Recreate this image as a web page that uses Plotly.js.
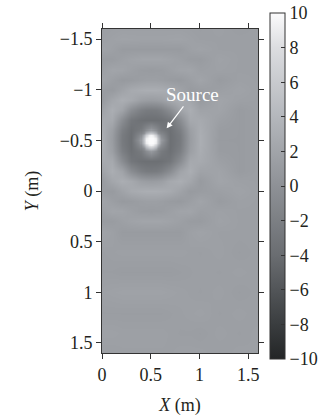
<!DOCTYPE html>
<html><head><meta charset="utf-8">
<script src="https://cdn.plot.ly/plotly-3.0.1.min.js"></script>
<style>html,body{margin:0;padding:0;background:#fff}#chart{width:334px;height:418px}</style>
</head><body><div id="chart"></div>
<script>
// grid coordinates (m)
const xs = [0, 0.1, 0.2, 0.3, 0.4, 0.45, 0.5, 0.55, 0.6, 0.7, 0.8, 0.9, 1.0, 1.2, 1.4, 1.6];
const ys = [-1.6, -1.5, -1.4, -1.3, -1.2, -1.1, -1.0, -0.9, -0.8, -0.7, -0.6, -0.55, -0.5, -0.45, -0.4,
            -0.3, -0.2, -0.1, 0, 0.1, 0.2, 0.3, 0.4, 0.6, 0.8, 1.0, 1.2, 1.4, 1.6];
// field values (one row per y)
const field = [
  [1.4,1.5,1.6,1.6,1.6,1.6,1.6,1.6,1.6,1.6,1.6,1.5,1.4,1.6,1.3,1.5],
  [1.5,1.7,1.9,1.85,1.8,1.8,1.8,1.8,1.8,1.85,1.9,1.7,1.5,1.5,1.5,1.5],
  [1.85,1.6,1.1,1.1,1.1,1.1,1.1,1.1,1.1,1.1,1.1,1.6,1.85,1.5,1.5,1.5],
  [1.1,1.15,1.55,1.85,2.05,2.1,2.1,2.1,2.05,1.85,1.55,1.15,1.1,1.8,1.5,1.5],
  [1.5,2.05,1.95,1.55,1.2,1.15,1.1,1.15,1.2,1.55,1.95,2.05,1.5,1.65,1.5,1.5],
  [2.0,1.45,0.95,1.1,1.4,1.5,1.5,1.5,1.4,1.1,0.95,1.45,2.0,1.1,1.6,1.5],
  [1.2,1.0,1.85,2.6,2.9,3,3,3,2.9,2.6,1.85,1.0,1.2,1.5,1.85,1.5],
  [1.0,2.2,3,2.5,1.5,1.3,1.2,1.3,1.5,2.5,3,2.2,1.0,2.05,1.6,1.5],
  [1.85,3,1.9,-0.5,-2.0,-2.4,-2.5,-2.4,-2.0,-0.5,1.9,3,1.85,1.95,1.1,1.5],
  [2.6,2.5,-0.5,-2.9,-3.6,-3.7,-3.7,-3.7,-3.6,-2.9,-0.5,2.5,2.6,1.55,1.1,1.5],
  [2.9,1.5,-2.0,-3.6,-2.5,-0.5,1,-0.5,-2.5,-3.6,-2.0,1.5,2.9,1.2,1.1,1.5],
  [3,1.3,-2.4,-3.7,-0.5,6.5,9.5,6.5,-0.5,-3.7,-2.4,1.3,3,1.15,1.1,1.5],
  [3,1.2,-2.5,-3.7,1,9.5,10,9.5,1,-3.7,-2.5,1.2,3,1.1,1.1,1.5],
  [3,1.3,-2.4,-3.7,-0.5,6.5,9.5,6.5,-0.5,-3.7,-2.4,1.3,3,1.15,1.1,1.5],
  [2.9,1.5,-2.0,-3.6,-2.5,-0.5,1,-0.5,-2.5,-3.6,-2.0,1.5,2.9,1.2,1.1,1.5],
  [2.6,2.5,-0.5,-2.9,-3.6,-3.7,-3.7,-3.7,-3.6,-2.9,-0.5,2.5,2.6,1.55,1.1,1.5],
  [1.85,3,1.9,-0.5,-2.0,-2.4,-2.5,-2.4,-2.0,-0.5,1.9,3,1.85,1.95,1.1,1.5],
  [1.0,2.2,3,2.5,1.5,1.3,1.2,1.3,1.5,2.5,3,2.2,1.0,2.05,1.6,1.5],
  [1.2,1.0,1.85,2.6,2.9,3,3,3,2.9,2.6,1.85,1.0,1.2,1.5,1.85,1.5],
  [2.0,1.45,0.95,1.1,1.4,1.5,1.5,1.5,1.4,1.1,0.95,1.45,2.0,1.1,1.6,1.5],
  [1.5,2.05,1.95,1.55,1.2,1.15,1.1,1.15,1.2,1.55,1.95,2.05,1.5,1.65,1.5,1.5],
  [1.1,1.15,1.55,1.85,2.05,2.1,2.1,2.1,2.05,1.85,1.55,1.15,1.1,1.8,1.5,1.5],
  [1.85,1.6,1.1,1.1,1.1,1.1,1.1,1.1,1.1,1.1,1.1,1.6,1.85,1.5,1.5,1.5],
  [1.4,1.5,1.6,1.6,1.6,1.6,1.6,1.6,1.6,1.6,1.6,1.5,1.4,1.6,1.3,1.5],
  [1.3,1.3,1.2,1.2,1.2,1.2,1.2,1.2,1.2,1.2,1.3,1.4,1.5,1.4,1.6,1.4],
  [1.6,1.7,1.8,1.8,1.8,1.8,1.8,1.8,1.8,1.7,1.6,1.5,1.4,1.6,1.3,1.5],
  [1.3,1.3,1.3,1.3,1.3,1.3,1.3,1.3,1.3,1.4,1.5,1.6,1.7,1.4,1.6,1.4],
  [1.7,1.7,1.6,1.6,1.6,1.6,1.6,1.6,1.6,1.5,1.4,1.4,1.3,1.6,1.4,1.6],
  [1.4,1.4,1.5,1.5,1.5,1.5,1.5,1.5,1.5,1.5,1.6,1.6,1.6,1.4,1.6,1.5]
];
// finer close-up of the source spot
const coreX = [0.4, 0.425, 0.45, 0.475, 0.5, 0.525, 0.55, 0.575, 0.6];
const coreY = [-0.6, -0.575, -0.55, -0.525, -0.5, -0.475, -0.45, -0.425, -0.4];
const coreField = [
  [-2.5,-1.5,-0.5,0.5,1,0.5,-0.5,-1.5,-2.5],
  [-1.5,0,3,5,5.5,5,3,0,-1.5],
  [-0.5,3,6.5,9,9.5,9,6.5,3,-0.5],
  [0.5,5,9,10,10,10,9,5,0.5],
  [1,5.5,9.5,10,10,10,9.5,5.5,1],
  [0.5,5,9,10,10,10,9,5,0.5],
  [-0.5,3,6.5,9,9.5,9,6.5,3,-0.5],
  [-1.5,0,3,5,5.5,5,3,0,-1.5],
  [-2.5,-1.5,-0.5,0.5,1,0.5,-0.5,-1.5,-2.5]
];
const xTicks = [0, 0.5, 1, 1.5];
const yTicks = [-1.5, -1, -0.5, 0, 0.5, 1, 1.5];
const cbTicks = [-10, -8, -6, -4, -2, 0, 2, 4, 6, 8, 10];
const sourcePos = [0.663, -0.619];

const font = {family: "'Liberation Serif', 'Times New Roman', serif", size: 18, color: '#231f20'};
const cscale = [[0,'#232526'],[0.1,'#3a3d3f'],[0.3,'#6a6d71'],[0.5,'#8e9196'],[0.7,'#b4b7bc'],[0.9,'#dcdde0'],[1,'#fbfbfc']];
const trace = {
  type: 'heatmap', x: xs, y: ys, z: field,
  zmin: -10, zmax: 10, zsmooth: 'best', colorscale: cscale,
  colorbar: {
    x: 1.075, xanchor: 'left', xpad: 0, ypad: 0,
    y: 0.515, yanchor: 'middle', len: 1.068, lenmode: 'fraction', thickness: 15,
    outlinewidth: 1, outlinecolor: '#333',
    tickmode: 'array', tickvals: cbTicks, ticks: 'inside', ticklen: 4, tickcolor: '#333',
    tickfont: font
  },
  hoverinfo: 'skip'
};
const core = {
  type: 'heatmap', x: coreX, y: coreY, z: coreField,
  zmin: -10, zmax: 10, zsmooth: 'best', colorscale: cscale, showscale: false, hoverinfo: 'skip'
};
const layout = {
  width: 334, height: 418,
  margin: {l: 102, r: 70, t: 29, b: 65},
  paper_bgcolor: '#fff', plot_bgcolor: '#fff',
  font: font,
  xaxis: {range: [0, 1.6], tickmode: 'array', tickvals: xTicks, ticks: 'outside', ticklen: 5,
          showline: true, linecolor: '#333', linewidth: 1, mirror: 'ticks', tickcolor: '#333',
          showgrid: false, zeroline: false, tickfont: font,
          title: {text: '<i>X</i> (m)', font: font, standoff: 14}},
  yaxis: {range: [1.6, -1.6], tickmode: 'array', tickvals: yTicks, ticks: 'outside', ticklen: 5,
          showline: true, linecolor: '#333', linewidth: 1, mirror: 'ticks', tickcolor: '#333',
          showgrid: false, zeroline: false, tickfont: font,
          title: {text: '<i>Y</i> (m)', font: font, standoff: 16}},
  annotations: [{
    x: sourcePos[0], y: sourcePos[1], xref: 'x', yref: 'y',
    text: 'Source', showarrow: true, ax: 26, ay: -34, axref: 'pixel', ayref: 'pixel',
    arrowcolor: '#fff', arrowwidth: 1.2, arrowhead: 2, arrowsize: 1,
    font: {family: font.family, size: 19, color: '#fff'}
  }]
};
Plotly.newPlot('chart', [trace, core], layout, {displayModeBar: false, staticPlot: true});
</script>
</body></html>
